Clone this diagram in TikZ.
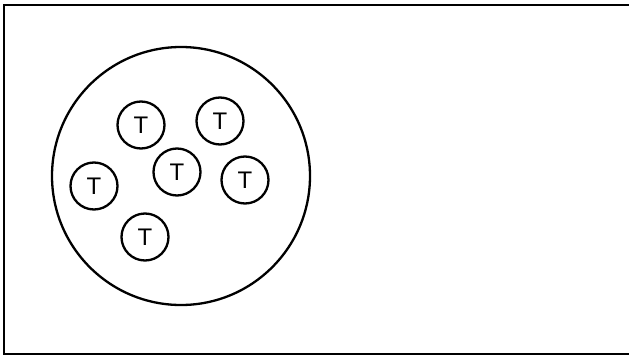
\documentclass[tikz,border=0pt]{standalone}
\usepackage{fontspec}
\setmainfont{Liberation Sans}

\begin{document}
\begin{tikzpicture}[x=1pt, y=-1pt,
    tcell/.style={draw, circle, line width=2.3pt, minimum size=47pt, inner sep=0pt, font=\fontsize{24}{24}\selectfont},
    pool/.style={draw, circle, line width=2.3pt, minimum size=258pt, inner sep=0pt}]
    \useasboundingbox (0,0) rectangle (629,356);

    % Рамка
    \draw[line width=2.3pt] (4,5) rectangle (632,354);

    % Большой круг
    \node[pool] (pool) at (181,176) {};

    % Маленькие круги
    \node[tcell] (t1) at (141,125) {T};
    \node[tcell] (t2) at (220,121) {T};
    \node[tcell] (t3) at (94,186) {T};
    \node[tcell] (t4) at (177,172) {T};
    \node[tcell] (t5) at (245,180) {T};
    \node[tcell] (t6) at (145,237) {T};
\end{tikzpicture}
\end{document}
